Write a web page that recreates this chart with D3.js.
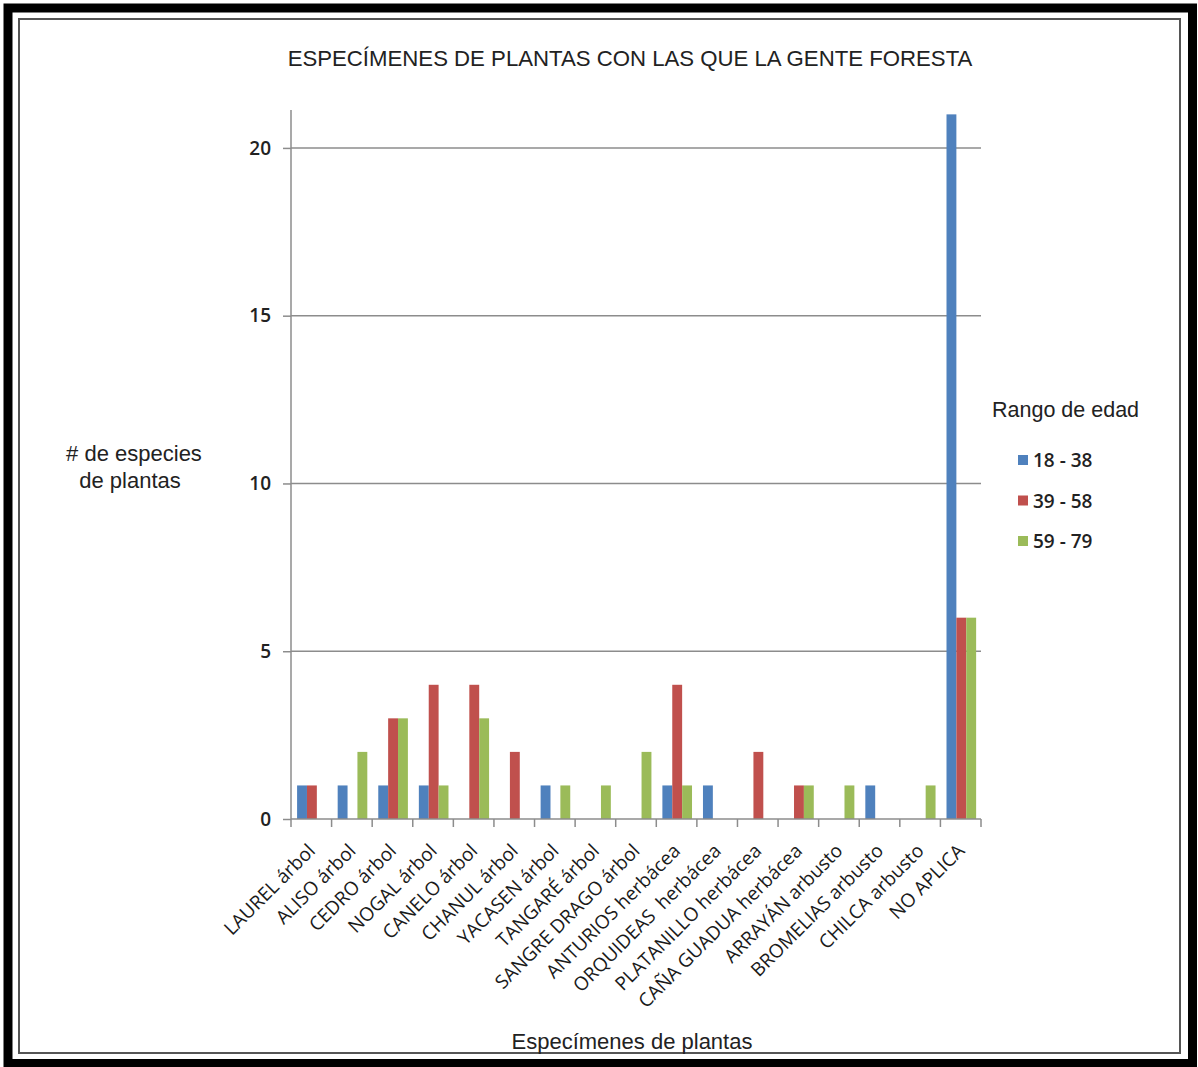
<!DOCTYPE html>
<html>
<head>
<meta charset="utf-8">
<script src="https://cdn.jsdelivr.net/npm/d3@7"></script>
<style>
  body { margin: 0; background: #fff; }
  svg { display: block; }
</style>
</head>
<body>
<svg id="chart" width="1198" height="1067"></svg>
<script>
const categories = ["LAUREL árbol", "ALISO árbol", "CEDRO árbol", "NOGAL árbol", "CANELO árbol",
  "CHANUL árbol", "YACASEN árbol", "TANGARÉ árbol", "SANGRE DRAGO árbol", "ANTURIOS herbácea",
  "ORQUIDEAS  herbácea", "PLATANILLO herbácea", "CAÑA GUADUA herbácea", "ARRAYÁN arbusto",
  "BROMELIAS arbusto", "CHILCA arbusto", "NO APLICA"];
const seriesNames = ["18 - 38", "39 - 58", "59 - 79"];
const age18_38 = [1, 1, 1, 1, 0, 0, 1, 0, 0, 1, 1, 0, 0, 0, 1, 0, 21];
const age39_58 = [1, 0, 3, 4, 4, 2, 0, 0, 0, 4, 0, 2, 1, 0, 0, 0, 6];
const age59_79 = [0, 2, 3, 1, 3, 0, 1, 1, 2, 1, 0, 0, 1, 1, 0, 1, 6];
const yTicks = [0, 5, 10, 15, 20];
const colors = ["#4F81BD", "#C0504D", "#9BBB59"];

const seriesValues = [age18_38, age39_58, age59_79];

const svg = d3.select("#chart");

// marco
svg.append("rect")
    .attr("x", 8).attr("y", 8)
    .attr("width", 1184.5).attr("height", 1055.5)
    .attr("fill", "none").attr("stroke", "#000").attr("stroke-width", 9);
svg.append("rect")
    .attr("x", 19).attr("y", 19)
    .attr("width", 1161).attr("height", 1034)
    .attr("fill", "none").attr("stroke", "#555").attr("stroke-width", 2);

const plotLeft = 291, plotRight = 981, plotBottom = 819, plotTop = 110;

const x = d3.scaleBand().domain(categories).range([plotLeft, plotRight]);
const xs = d3.scaleBand().domain(seriesNames)
    .range([x.bandwidth() * 0.15, x.bandwidth() * 0.88]);
const y = d3.scaleLinear().domain([0, 21.13]).range([plotBottom, plotTop]);

// rejilla
svg.append("g")
    .selectAll("line")
    .data(yTicks.filter(d => d > 0))
    .join("line")
    .attr("x1", plotLeft).attr("x2", plotRight)
    .attr("y1", d => y(d)).attr("y2", d => y(d))
    .attr("stroke", "#8c8c8c").attr("stroke-width", 1.5);

// barras
const groups = svg.append("g")
    .selectAll("g")
    .data(categories)
    .join("g")
    .attr("transform", d => `translate(${x(d)},0)`);

groups.selectAll("rect")
    .data((c, i) => seriesNames.map((s, k) => ({ s, v: seriesValues[k][i], k })))
    .join("rect")
    .attr("x", d => xs(d.s))
    .attr("width", xs.bandwidth())
    .attr("y", d => y(d.v))
    .attr("height", d => y(0) - y(d.v))
    .attr("fill", d => colors[d.k]);

// eje Y
const yAxis = svg.append("g")
    .attr("transform", `translate(${plotLeft},0)`)
    .call(d3.axisLeft(y).tickValues(yTicks).tickSize(8).tickPadding(12));
yAxis.select(".domain").attr("d", `M0,${plotTop}V${plotBottom}`);
yAxis.selectAll("line, path").attr("stroke", "#8c8c8c").attr("stroke-width", 1.5);
yAxis.selectAll("text")
    .attr("font-family", "'Open Sans', sans-serif")
    .attr("font-weight", 600)
    .attr("font-size", 19)
    .attr("fill", "#222");

// eje X
const xAxis = svg.append("g")
    .attr("transform", `translate(0,${plotBottom})`)
    .call(d3.axisBottom(x).tickSize(0).tickFormat(""));
xAxis.select(".domain").attr("d", `M${plotLeft},0H${plotRight}`)
    .attr("stroke", "#8c8c8c").attr("stroke-width", 1.5);
xAxis.selectAll(".tick").remove();

svg.append("g")
    .selectAll("line")
    .data(d3.range(categories.length + 1))
    .join("line")
    .attr("x1", i => plotLeft + i * x.step())
    .attr("x2", i => plotLeft + i * x.step())
    .attr("y1", plotBottom).attr("y2", plotBottom + 8)
    .attr("stroke", "#8c8c8c").attr("stroke-width", 1.5);

svg.append("g")
    .selectAll("text")
    .data(categories)
    .join("text")
    .attr("transform", d => `translate(${x(d) + x.bandwidth() / 2 + 5},${plotBottom + 33}) rotate(-45)`)
    .attr("text-anchor", "end")
    .attr("font-family", "'Open Sans', sans-serif")
    .attr("font-size", 19)
    .attr("fill", "#1a1a1a")
    .attr("xml:space", "preserve")
    .text(d => d);

// títulos
svg.append("text")
    .attr("x", 630).attr("y", 66)
    .attr("text-anchor", "middle")
    .attr("font-family", "'Liberation Sans', Arial, sans-serif")
    .attr("font-size", 22.2)
    .attr("fill", "#222")
    .text("ESPECÍMENES DE PLANTAS CON LAS QUE LA GENTE FORESTA");

svg.append("text")
    .attr("x", 632).attr("y", 1049)
    .attr("text-anchor", "middle")
    .attr("font-family", "'Liberation Sans', Arial, sans-serif")
    .attr("font-size", 22)
    .attr("fill", "#222")
    .text("Especímenes de plantas");

const yTitle = svg.append("text")
    .attr("text-anchor", "middle")
    .attr("font-family", "'Liberation Sans', Arial, sans-serif")
    .attr("font-size", 22)
    .attr("fill", "#222");
yTitle.append("tspan").attr("x", 134).attr("y", 461).text("# de especies");
yTitle.append("tspan").attr("x", 130).attr("y", 488).text("de plantas");

// leyenda
svg.append("text")
    .attr("x", 992).attr("y", 417)
    .attr("font-family", "'Liberation Sans', Arial, sans-serif")
    .attr("font-size", 21.5)
    .attr("fill", "#222")
    .text("Rango de edad");

const legend = svg.append("g")
    .selectAll("g")
    .data(seriesNames)
    .join("g")
    .attr("transform", (d, i) => `translate(1018,${460 + i * 40.5})`);
legend.append("rect")
    .attr("x", 0).attr("y", -5)
    .attr("width", 10).attr("height", 10)
    .attr("fill", (d, i) => colors[i]);
legend.append("text")
    .attr("x", 15).attr("y", 7)
    .attr("font-family", "'Open Sans', sans-serif")
    .attr("font-weight", 600)
    .attr("font-size", 19)
    .attr("fill", "#222")
    .text(d => d);
</script>
</body>
</html>
